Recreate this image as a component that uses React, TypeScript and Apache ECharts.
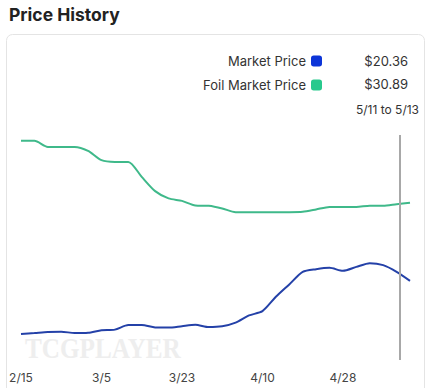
import React, { useEffect, useRef } from "react";
import * as echarts from "echarts";

const dates = [
  "2/15", "2/18", "2/21", "2/24", "2/27", "3/2", "3/5", "3/8", "3/11", "3/14",
  "3/17", "3/20", "3/23", "3/26", "3/29", "4/1", "4/4", "4/7", "4/10", "4/13",
  "4/16", "4/19", "4/22", "4/25", "4/28", "5/1", "5/4", "5/7", "5/10", "5/13",
];

const marketPrice = [
  13.19, 13.32, 13.46, 13.52, 13.32, 13.36, 13.7, 13.79, 14.4, 14.4,
  14.09, 14.06, 14.26, 14.44, 14.13, 14.24, 14.73, 15.7, 16.28, 18.21,
  19.88, 21.57, 21.93, 22.11, 21.71, 22.24, 22.74, 22.47, 21.57, 20.36,
];

const foilMarketPrice = [
  39.21, 39.21, 38.4, 38.4, 38.4, 37.86, 36.61, 36.38, 36.38, 34.36,
  32.44, 31.46, 31.13, 30.51, 30.46, 30.11, 29.61, 29.61, 29.61, 29.61,
  29.61, 29.65, 29.97, 30.32, 30.32, 30.32, 30.46, 30.46, 30.69, 30.89,
];

const seriesNames = ["Market Price", "Foil Market Price"];
const latestValues = ["$20.36", "$30.89"];
const rangeLabel = "5/11 to 5/13";
const hoverIndex = 28.26;

export default function App() {
  const ref = useRef<HTMLDivElement>(null);

  useEffect(() => {
    if (!ref.current) return;
    const chart = echarts.init(ref.current, null, { renderer: "svg" });
    const font = "Inter, 'Noto Sans', sans-serif";
    chart.setOption({
      animation: false,
      backgroundColor: "#ffffff",
      title: {
        text: "Price History",
        left: 4,
        top: 0,
        textStyle: { fontFamily: font, fontSize: 17.5, fontWeight: 700, color: "#222" },
      },
      grid: { left: 21, right: 21, top: 135, bottom: 28 },
      xAxis: {
        type: "value",
        min: 0,
        max: dates.length - 1,
        interval: 6,
        axisLine: { show: false },
        axisTick: { show: false },
        splitLine: { show: false },
        axisLabel: {
          showMaxLabel: false,
          margin: 11,
          color: "#444",
          fontSize: 12,
          fontFamily: font,
          formatter: (v: number) => dates[Math.round(v)] ?? "",
        },
      },
      yAxis: {
        type: "value",
        min: 9.7,
        max: 40,
        show: false,
      },
      legend: {
        orient: "vertical",
        right: 109,
        top: 54.5,
        align: "right",
        icon: "roundRect",
        itemWidth: 11,
        itemHeight: 11,
        itemGap: 11,
        padding: 0,
        selectedMode: false,
        textStyle: { fontFamily: font, fontSize: 13, color: "#333" },
        data: seriesNames,
      },
      graphic: [
        {
          type: "rect",
          z: -10,
          shape: { x: 6.5, y: 34.5, width: 418, height: 420, r: 6 },
          style: { fill: "#fff", stroke: "#e4e4e4", lineWidth: 1 },
        },
        {
          type: "text",
          z: -5,
          x: 25,
          y: 333,
          scaleX: 0.84,
          style: {
            text: "TCGPLAYER",
            font: "bold 30px 'Liberation Serif', 'DejaVu Serif', serif",
            fill: "#eeeeee",
          },
        },
        {
          type: "text",
          x: 408,
          y: 60.5,
          style: {
            text: latestValues[0],
            font: `13px ${font}`,
            fill: "#333",
            textAlign: "right",
            textVerticalAlign: "middle",
          },
        },
        {
          type: "text",
          x: 408,
          y: 83.5,
          style: {
            text: latestValues[1],
            font: `13px ${font}`,
            fill: "#333",
            textAlign: "right",
            textVerticalAlign: "middle",
          },
        },
        {
          type: "text",
          x: 419,
          y: 109,
          style: {
            text: rangeLabel,
            font: `12px ${font}`,
            fill: "#333",
            textAlign: "right",
            textVerticalAlign: "middle",
          },
        },
      ],
      series: [
        {
          name: seriesNames[0],
          type: "line",
          z: 3,
          smooth: 0.25,
          showSymbol: false,
          data: marketPrice.map((v, i) => [i, v]),
          itemStyle: { color: "#0d35d8" },
          lineStyle: { color: "#2441a8", width: 2 },
          markLine: {
            silent: true,
            symbol: "none",
            label: { show: false },
            lineStyle: { color: "#a8a8a8", width: 2, type: "solid" },
            data: [{ xAxis: hoverIndex }],
          },
        },
        {
          name: seriesNames[1],
          type: "line",
          z: 3,
          smooth: 0.25,
          showSymbol: false,
          data: foilMarketPrice.map((v, i) => [i, v]),
          itemStyle: { color: "#28c98d" },
          lineStyle: { color: "#3fb98a", width: 2 },
        },
      ],
    });
    return () => chart.dispose();
  }, []);

  return (
    <div
      ref={ref}
      style={{ position: "fixed", left: 0, top: 0, width: 431, height: 388 }}
    />
  );
}
